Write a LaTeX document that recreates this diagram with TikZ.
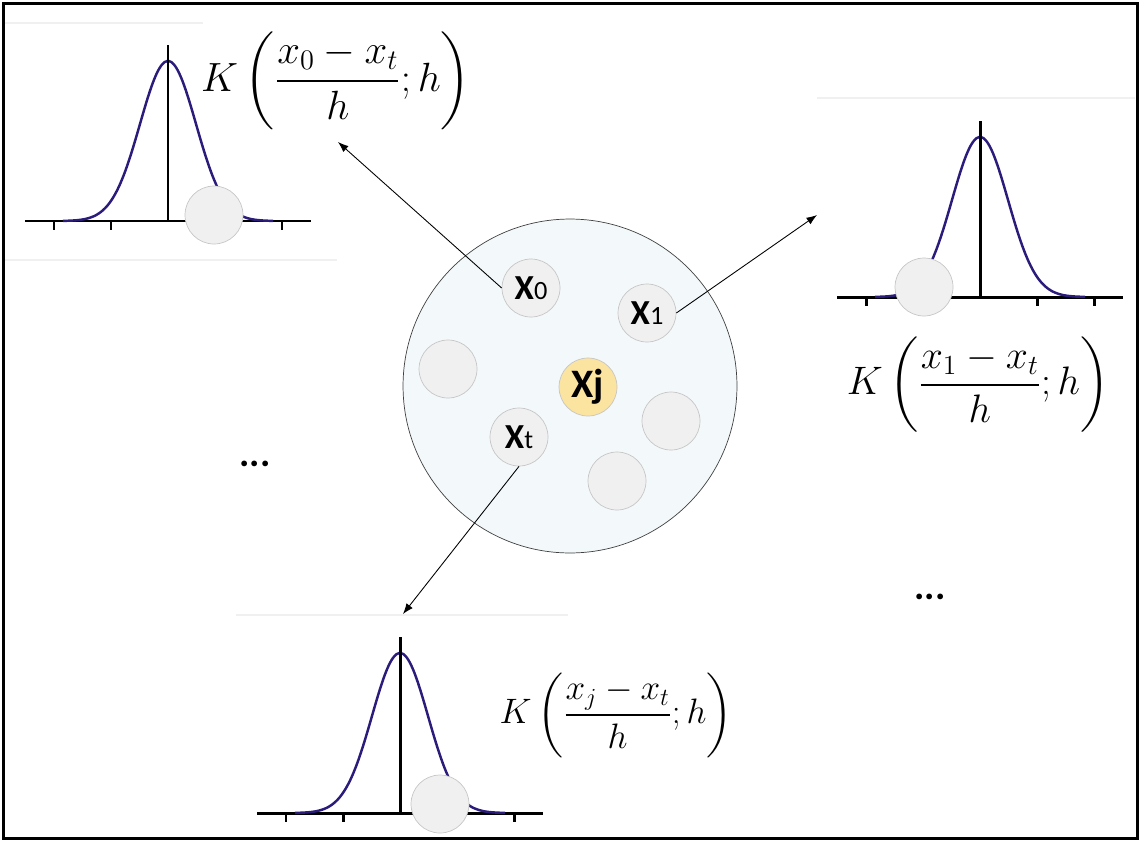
\documentclass[tikz,border=0pt]{standalone}
\usepackage{amsmath}
\usepackage{fontspec}
\newfontfamily\labelfont{Carlito}
\usetikzlibrary{arrows.meta}

\definecolor{dotfill}{HTML}{F0F0F0}
\definecolor{dotline}{HTML}{C6C6C6}
\definecolor{poolfill}{HTML}{F3F8FB}
\definecolor{goldfill}{HTML}{FBE3A0}
\definecolor{kernel}{HTML}{2B1B7B}
\newcommand{\idx}[1]{{\mdseries\fontsize{15}{15}\selectfont #1}}
\newcommand{\kfrac}[2][1.12]{\scalebox{#1}{$\displaystyle K\left(\frac{#2-x_t}{h};h\right)$}}

\begin{document}
\begin{tikzpicture}[x=0.02cm, y=-0.02cm, dot/.style={circle, draw=dotline, fill=dotfill, minimum size=1.16cm, inner sep=0pt, font=\labelfont\bfseries\fontsize{20}{20}\selectfont}, pool/.style={circle, draw=black!75, fill=poolfill, minimum size=6.68cm}, axisline/.style={line width=1.7pt}, curveline/.style={draw=kernel, line width=1.4pt}, arr/.style={-{Latex[length=6pt,width=4.5pt]}, line width=0.5pt}, formula/.style={inner sep=0pt, font=\fontsize{20.74}{25}\selectfont}, faint/.style={draw=black!6, line width=0.6pt}, dots/.style={anchor=base, font=\labelfont\bfseries\fontsize{22}{22}\selectfont}]
\useasboundingbox (0,0) rectangle (1141,842);
\draw[line width=1.7pt] (3.5,3.5) rectangle (1137.5,838.5);
% edges of the pasted plots
\draw[faint] (5,23) -- (203,23);
\draw[faint] (5,260) -- (337,260);
\draw[faint] (817,98) -- (1135,98);
\draw[faint] (236,615) -- (568,615);
% kernel plots
\foreach \cx/\ay in {168/221, 980/297, 400/813} {
  \draw[axisline] (\cx-143,\ay) -- (\cx+143,\ay);
  \foreach \t in {-114,-57,57,114} \draw[axisline] (\cx+\t,\ay) -- (\cx+\t,\ay+9);
  \draw[curveline] plot[domain=-105:105, samples=90, smooth] ({\cx+\x}, {\ay-160*exp(-((\x)*(\x))/1568)});
  \draw[axisline] (\cx,\ay) -- (\cx,\ay-176);
}
\node[dot] (p0) at (214,215) {};
\node[dot] (p1) at (924,287) {};
\node[dot] (pj) at (440,804) {};
\node[formula] (f0) at (336,81) {\kfrac{x_0}};
\node[formula] (f1) at (978,385) {\kfrac[1.09]{x_1}};
\node[formula] (fj) at (616,715) {\kfrac[0.97]{x_j}};
% sample pool
\node[pool] (pool) at (570,386) {};
\node[dot] (x0) at (531,288) {X\idx{0}};
\node[dot] (x1) at (647,313) {X\idx{1}};
\node[dot] (g1) at (448,369) {};
\node[dot, fill=goldfill, font=\labelfont\bfseries\fontsize{23}{23}\selectfont] (xj) at (588,387) {Xj};
\node[dot] (g2) at (671,421) {};
\node[dot] (xt) at (519,437) {X\idx{t}};
\node[dot] (g3) at (617,481) {};
\coordinate (k0) at (338,142);
\coordinate (k1) at (817,215);
\coordinate (kj) at (403,614);
\draw[arr] (x0.west) -- (k0);
\draw[arr] (x1.east) -- (k1);
\draw[arr] (xt.south) -- (kj);
\node[dots] (dl) at (255,466) {...};
\node[dots] (dr) at (930,599) {...};
\end{tikzpicture}
\end{document}
